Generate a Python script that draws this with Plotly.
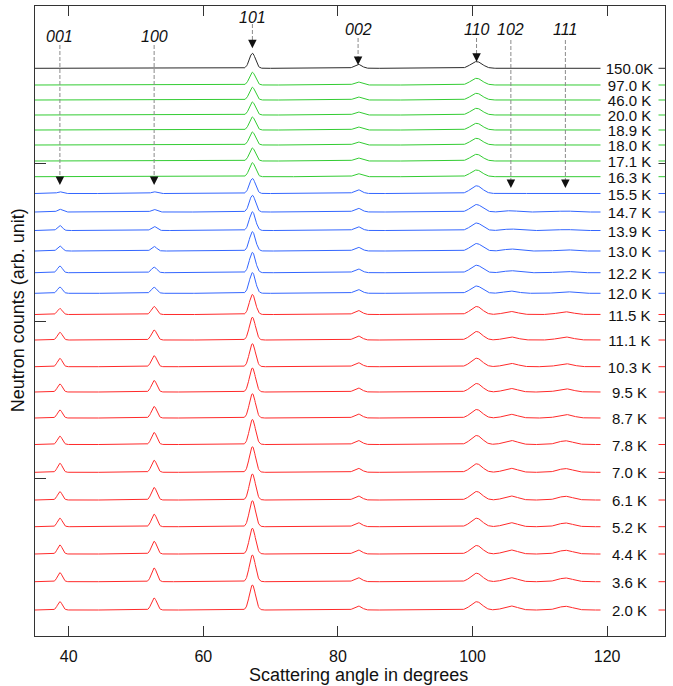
import numpy as np
import plotly.graph_objects as go

# ---------------- data ----------------
temps = ["150.0K", "97.0 K", "46.0 K", "20.0 K", "18.9 K", "18.0 K", "17.1 K", "16.3 K",
         "15.5 K", "14.7 K", "13.9 K", "13.0 K", "12.2 K", "12.0 K",
         "11.5 K", "11.1 K", "10.3 K", "9.5 K", "8.7 K", "7.8 K", "7.0 K", "6.1 K",
         "5.2 K", "4.4 K", "3.6 K", "2.0 K"]
groups = ["k"] + ["g"] * 7 + ["b"] * 6 + ["r"] * 12

# vertical offset of each pattern (arb. unit)
offsets = [567.7, 551.0, 536.0, 521.0, 506.0, 491.0, 475.0, 459.3,
           442.5, 424.0, 405.5, 385.0, 363.3, 342.7,
           321.5, 296.0, 269.3, 244.0, 218.0, 191.5, 163.7, 136.0,
           109.3, 82.0, 54.3, 26.0]

reflections = ["001", "100", "101", "002", "110", "102", "111"]
peak_pos = [38.7, 52.7, 67.3, 83.0, 100.6, 105.7, 113.8]
peak_sig = [0.36, 0.40, 0.45, 0.55, 0.85, 1.0, 1.1]

h001 = [0, 0.4, 0.4, 0.4, 0.4, 0.4, 0.4, 0.5,
        1.7, 2.7, 5.0, 5.0, 6.7, 6.3,
        6.0, 7.7, 8.3, 8.0, 8.0, 8.3, 9.0, 8.3, 8.5, 9.0, 9.0, 8.3]
h100 = [0, 0.4, 0.4, 0.4, 0.4, 0.4, 0.4, 0.5,
        1.7, 2.5, 4.0, 4.5, 5.5, 6.0,
        8.0, 10.0, 11.0, 11.5, 11.5, 12.0, 12.0, 12.5, 12.5, 12.7, 13.7, 12.0]
h101 = [15.0, 12.7, 12.7, 13.0, 13.0, 13.0, 13.0, 14.0,
        15.0, 16.7, 18.7, 19.3, 20.3, 20.7,
        20.0, 22.7, 23.0, 24.0, 24.3, 25.0, 25.6, 26.0, 26.0, 25.7, 26.7, 25.0]
h002 = [4.0, 3.0, 3.0, 3.0, 3.0, 3.0, 3.0, 3.0,
        3.7, 3.7, 3.7, 3.7, 3.7, 3.7,
        4.0, 4.0, 4.0, 4.0, 4.0, 4.0, 4.0, 4.0, 4.0, 4.0, 4.0, 4.0]
h110 = [6.7, 6.7, 6.7, 6.7, 6.7, 6.7, 6.7, 6.7,
        7.7, 7.5, 7.5, 7.5, 7.5, 7.3,
        8.0, 8.5, 8.5, 8.5, 8.5, 9.0, 8.5, 8.5, 8.5, 8.5, 8.5, 8.3]
h102 = [0, 0, 0, 0, 0, 0, 0, 0,
        0.3, 1.3, 1.5, 2.0, 2.0, 2.2,
        3.0, 3.0, 3.3, 3.5, 3.7, 4.0, 4.0, 4.0, 4.0, 4.0, 4.0, 4.0]
h111 = [0, 0, 0, 0, 0, 0, 0, 0,
        0.7, 1.0, 1.0, 1.3, 1.3, 1.7,
        2.7, 3.0, 3.0, 3.2, 3.5, 3.7, 3.7, 3.7, 3.7, 3.7, 3.7, 3.7]
heights = [h001, h100, h101, h002, h110, h102, h111]

# annotation geometry for reflection labels (plot units)
label_y = [600.0, 600.0, 618.7, 606.7, 606.7, 606.7, 606.7]
dash_top = [591.0, 591.0, 612.0, 598.0, 598.0, 596.0, 596.0]
arrow_tip = [451.0, 451.0, 587.7, 571.0, 574.3, 448.0, 448.0]

colors = {"k": "#2a2a2a", "g": "#33cc33", "b": "#3366ff", "r": "#ff2a2a"}

# ---------------- figure ----------------
x = np.linspace(35, 128.6, 1600)
fig = go.Figure()
for i, t in enumerate(temps):
    y = np.full_like(x, offsets[i])
    for j in range(len(peak_pos)):
        y = y + heights[j][i] * np.exp(-0.5 * ((x - peak_pos[j]) / peak_sig[j]) ** 2)
    fig.add_trace(go.Scatter(x=x, y=y, mode="lines",
                             line=dict(color=colors[groups[i]], width=1),
                             showlegend=False, hoverinfo="skip"))

annotations = []
shapes = []
for i, t in enumerate(temps):
    annotations.append(dict(x=123.3, y=offsets[i], xref="x", yref="y", text=t,
                            showarrow=False, font=dict(size=15, color="#111"),
                            bgcolor="white", width=57, height=14, borderpad=0,
                            xanchor="center", yanchor="middle", align="center",
                            valign="middle"))

for j, r in enumerate(reflections):
    annotations.append(dict(x=peak_pos[j], y=label_y[j], xref="x", yref="y",
                            text="<i>" + r + "</i>", showarrow=False,
                            font=dict(size=16, color="#111"),
                            xanchor="center", yanchor="middle"))
    shapes.append(dict(type="line", xref="x", yref="y",
                       x0=peak_pos[j], x1=peak_pos[j], y0=dash_top[j], y1=arrow_tip[j] + 6,
                       line=dict(color="#8a8a8a", width=1, dash="4px,2px")))
    annotations.append(dict(x=peak_pos[j], y=arrow_tip[j], xref="x", yref="y",
                            text="", showarrow=True, ax=0, ay=-9,
                            arrowhead=2, arrowsize=1.7, arrowwidth=1,
                            arrowcolor="#111", standoff=0))

annotations.append(dict(x=0.514, y=-0.062, xref="paper", yref="paper",
                        text="Scattering angle in degrees", showarrow=False,
                        font=dict(size=18, color="#111"),
                        xanchor="center", yanchor="middle"))
annotations.append(dict(x=-0.027, y=0.517, xref="paper", yref="paper",
                        text="Neutron counts (arb. unit)", showarrow=False,
                        textangle=-90, font=dict(size=18, color="#111"),
                        xanchor="center", yanchor="middle"))

fig.update_layout(
    width=673, height=686,
    margin=dict(l=35, r=8, t=6, b=50),
    paper_bgcolor="white", plot_bgcolor="white",
    font=dict(family="Arial, Liberation Sans, sans-serif", color="#111"),
    annotations=annotations, shapes=shapes,
    xaxis=dict(range=[35, 128.6], tickvals=[40, 60, 80, 100, 120],
               ticks="inside", ticklen=10, tickcolor="#333", mirror="ticks",
               showline=True, linecolor="#333", linewidth=1,
               showgrid=False, zeroline=False, tickfont=dict(size=16),
               ticklabelstandoff=6),
    yaxis=dict(range=[0, 630], tick0=0, dtick=157.5,
               ticks="inside", ticklen=11, tickcolor="#333", mirror="ticks",
               showline=True, linecolor="#333", linewidth=1,
               showgrid=False, zeroline=False, showticklabels=False),
)

fig.write_html("out.html",
               config={"displayModeBar": False},
               post_script="document.body.style.margin='0px';"
                           "document.body.style.overflow='hidden';")
